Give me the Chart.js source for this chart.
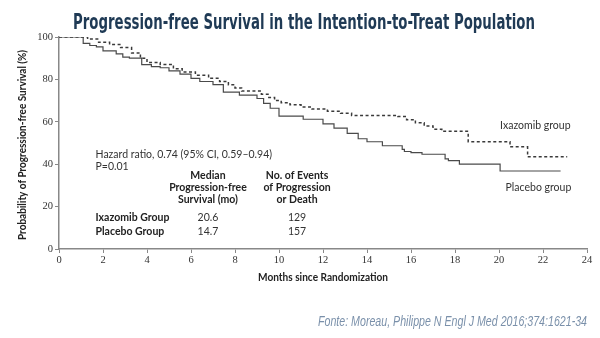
<!DOCTYPE html>
<html>
<head>
<meta charset="utf-8">
<script src="https://cdn.jsdelivr.net/npm/chart.js@4.4.1/dist/chart.umd.min.js"></script>
<style>
  body { margin: 0; background: #fff; }
</style>
</head>
<body>
<canvas id="pfsChart" width="600" height="338"></canvas>
<script>
// Kaplan-Meier steps (months, % progression-free)
const ixaMonths = [0, 0.95, 1.3, 1.8, 2.3, 2.8, 3.3, 3.7, 4.0, 4.6, 5.2, 5.6, 6.2, 6.8, 7.3, 7.7, 8.0, 8.3, 9.2, 9.5, 9.8, 10.1, 10.5, 11.0, 11.5, 12.2, 12.8, 13.3, 15.4, 15.8, 16.2, 16.6, 17.0, 17.4, 18.6, 20.5, 21.3, 23.1];
const ixaSurv   = [100, 100, 99, 97.5, 96.5, 95, 92.5, 90, 88, 87, 85, 83.5, 82, 80.5, 79, 77.5, 76, 74.5, 73, 71.5, 70, 69, 68, 67, 66, 65, 64, 63, 62.5, 61, 59.5, 58, 56.5, 55.5, 50.6, 48.2, 43.5, 43.5];

const plaMonths = [0, 0.95, 1.1, 1.4, 1.7, 2.0, 2.6, 2.9, 3.2, 3.76, 4.2, 4.6, 5.0, 5.5, 6.0, 6.4, 7.0, 7.47, 8.2, 9.0, 9.3, 9.6, 10.0, 11.1, 12.0, 12.5, 13.1, 13.6, 14.0, 14.7, 15.6, 15.7, 16.0, 16.5, 17.55, 17.7, 18.2, 20.05, 22.8];
const plaSurv   = [100, 100, 97, 96, 95.3, 93.5, 92, 90.5, 90, 87, 86, 85.5, 84, 82.5, 80.5, 79, 77.5, 74, 72.6, 71, 68.7, 66.4, 62.7, 61.2, 59, 57, 54.5, 52, 50.6, 48.7, 47, 46, 45.5, 44.7, 42.5, 41.7, 40, 36.8, 36.8];

const xTicks = [0, 2, 4, 6, 8, 10, 12, 14, 16, 18, 20, 22, 24];
const yTicks = [0, 20, 40, 60, 80, 100];

const tableRows = ['Ixazomib Group', 'Placebo Group'];
const medianPFS = ['20.6', '14.7'];
const eventCounts = ['129', '157'];

const toPoints = (xs, ys) => xs.map((x, i) => ({ x: x, y: ys[i] }));

const sans = 'Lato, "Open Sans", sans-serif';

// draw text squeezed to a target width (mimics condensed faces)
function fitText(ctx, text, x, y, width, align) {
  const w = ctx.measureText(text).width;
  const s = Math.min(1.15, width / w);
  ctx.save();
  ctx.translate(x, y);
  ctx.scale(s, 1);
  ctx.textAlign = align;
  ctx.fillText(text, 0, 0);
  ctx.restore();
}

const textPlugin = {
  id: 'pfsText',
  afterDraw(chart) {
    const ctx = chart.ctx;
    const xs = chart.scales.x;
    const ys = chart.scales.y;
    const px = v => xs.getPixelForValue(v);
    const py = v => ys.getPixelForValue(v);
    ctx.save();
    ctx.textBaseline = 'alphabetic';

    // title
    ctx.fillStyle = '#1f3a55';
    ctx.font = 'bold 21px "Liberation Sans Narrow", "DejaVu Sans Condensed", sans-serif';
    fitText(ctx, 'Progression-free Survival in the Intention-to-Treat Population', 304, 29, 462, 'center');

    // source
    ctx.fillStyle = '#7a90aa';
    ctx.font = 'italic 15px "Liberation Sans", sans-serif';
    fitText(ctx, 'Fonte: Moreau, Philippe N Engl J Med 2016;374:1621-34', 587, 326, 269, 'right');

    // axis titles
    ctx.fillStyle = '#222';
    ctx.font = 'bold 10.5px ' + sans;
    fitText(ctx, 'Months since Randomization', 323, 281, 130, 'center');
    ctx.save();
    ctx.translate(26, 145);
    ctx.rotate(-Math.PI / 2);
    fitText(ctx, 'Probability of Progression-free Survival (%)', 0, 0, 190, 'center');
    ctx.restore();

    // annotations
    ctx.fillStyle = '#333';
    ctx.font = '10.5px ' + sans;
    ctx.textAlign = 'left';
    ctx.fillText('Hazard ratio, 0.74 (95% CI, 0.59\u20130.94)', px(1.66), py(43));
    ctx.fillText('P=0.01', px(1.66), py(37.5));
    ctx.fillText('Ixazomib group', px(20.05), py(56.5));
    ctx.fillText('Placebo group', px(20.3), py(27.5));

    ctx.fillStyle = '#222';
    ctx.font = 'bold 10.5px ' + sans;
    ctx.textAlign = 'center';
    ['Median', 'Progression-free', 'Survival (mo)'].forEach((t, i) => ctx.fillText(t, px(6.77), py(33 - i * 5.7)));
    ['No. of Events', 'of Progression', 'or Death'].forEach((t, i) => ctx.fillText(t, px(10.82), py(33 - i * 5.7)));

    const rowY = [13.4, 6.7];
    ctx.textAlign = 'left';
    tableRows.forEach((t, i) => ctx.fillText(t, px(1.66), py(rowY[i])));
    ctx.font = '10.5px ' + sans;
    ctx.fillStyle = '#333';
    ctx.textAlign = 'center';
    medianPFS.forEach((t, i) => ctx.fillText(t, px(6.77), py(rowY[i])));
    eventCounts.forEach((t, i) => ctx.fillText(t, px(10.82), py(rowY[i])));

    ctx.restore();
  }
};

const ctx = document.getElementById('pfsChart');

new Chart(ctx, {
  type: 'line',
  data: {
    datasets: [{
      label: 'Ixazomib group',
      data: toPoints(ixaMonths, ixaSurv),
      stepped: 'before',
      borderColor: '#3a3a3a',
      borderWidth: 1.5,
      borderDash: [3, 2.5],
      pointRadius: 0,
      fill: false
    }, {
      label: 'Placebo group',
      data: toPoints(plaMonths, plaSurv),
      stepped: 'before',
      borderColor: '#4a4a4a',
      borderWidth: 1.2,
      pointRadius: 0,
      fill: false
    }]
  },
  options: {
    responsive: false,
    animation: false,
    layout: { padding: { top: 37, right: 13, left: 0, bottom: 0 } },
    plugins: {
      legend: { display: false },
      tooltip: { enabled: false }
    },
    scales: {
      x: {
        type: 'linear',
        min: 0,
        max: 24,
        afterFit: scale => { scale.height = 89; },
        afterBuildTicks: scale => { scale.ticks = xTicks.map(v => ({ value: v })); },
        grid: { drawOnChartArea: false, tickLength: 4, color: '#888' },
        border: { color: '#888', width: 1.5 },
        ticks: { color: '#333', padding: 1, maxRotation: 0, font: { family: '"Liberation Serif", serif', size: 10.5 } }
      },
      y: {
        min: 0,
        max: 100,
        afterFit: scale => { scale.width = 59; },
        afterBuildTicks: scale => { scale.ticks = yTicks.map(v => ({ value: v })); },
        grid: { drawOnChartArea: false, tickLength: 4, color: '#888' },
        border: { color: '#888', width: 1.5 },
        ticks: { color: '#333', padding: 2, font: { family: '"Liberation Serif", serif', size: 10.5 } }
      }
    }
  },
  plugins: [textPlugin]
});
</script>
</body>
</html>
